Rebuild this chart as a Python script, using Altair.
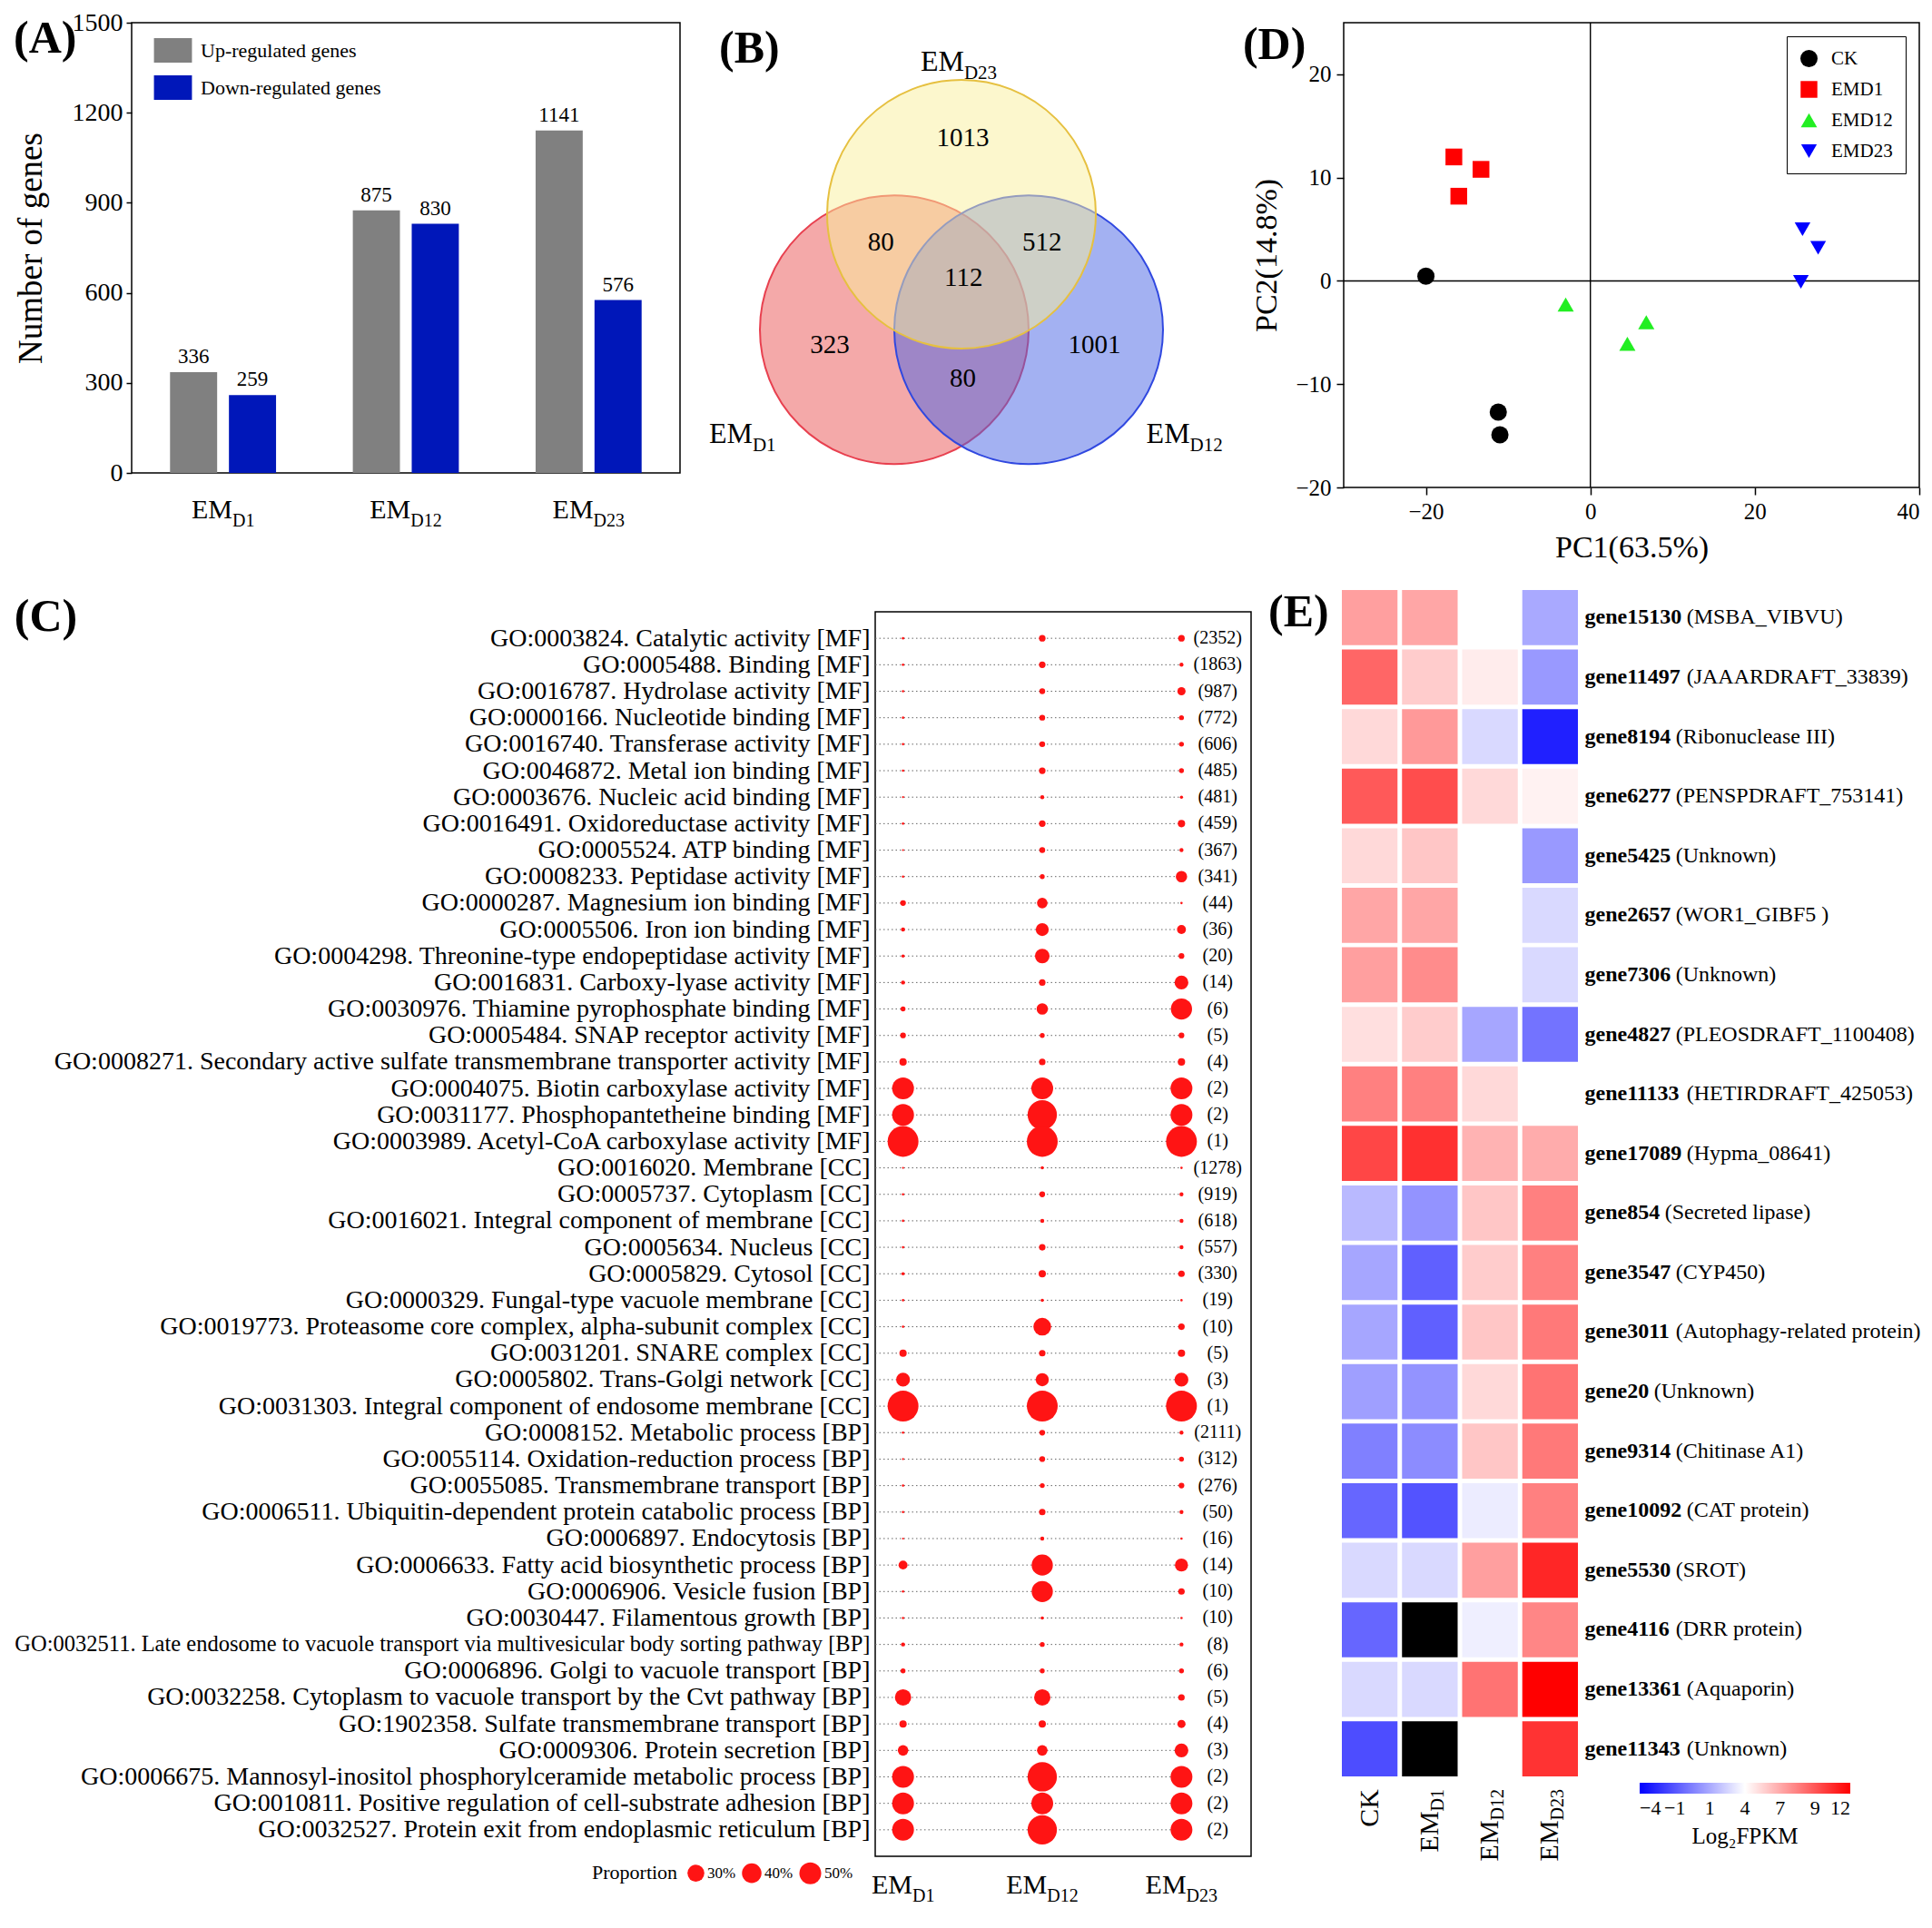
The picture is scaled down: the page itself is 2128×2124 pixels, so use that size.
import altair as alt
import pandas as pd

FONT = "Liberation Serif"

# ============================ DATA ============================
groups = ["EM_D1", "EM_D12", "EM_D23"]
group_main = ["EM", "EM", "EM"]
group_sub = ["D1", "D12", "D23"]

# (A) numbers of DEGs
reg_types = ["Up-regulated genes", "Down-regulated genes"]
up_genes = [336, 875, 1141]
down_genes = [259, 830, 576]
a_ticks = [0, 300, 600, 900, 1200, 1500]

# (B) Venn region counts: D23 only, D1&D23, D12&D23, all, D1 only, D12 only, D1&D12
venn_sets = ["EM_D1", "EM_D12", "EM_D23"]
venn_region_counts = [1013, 80, 512, 112, 323, 1001, 80]

# (D) PCA
pca_groups = ["CK", "EM_D1", "EM_D12", "EM_D23"]
pca_group = ["CK", "CK", "CK", "EM_D1", "EM_D1", "EM_D1",
             "EM_D12", "EM_D12", "EM_D12", "EM_D23", "EM_D23", "EM_D23"]
pca_pc1 = [-20.0, -11.2, -11.0, -16.6, -13.3, -16.0, -3.0, 4.5, 6.8, 25.8, 27.7, 25.6]
pca_pc2 = [0.45, -12.7, -14.9, 12.0, 10.8, 8.2, -2.3, -6.1, -4.0, 5.0, 3.2, -0.1]
pc1_ticks = [-20, 0, 20, 40]
pc2_ticks = [-20, -10, 0, 10, 20]

# (C) GO enrichment
go_terms = [
    "GO:0003824. Catalytic activity [MF]",
    "GO:0005488. Binding [MF]",
    "GO:0016787. Hydrolase activity [MF]",
    "GO:0000166. Nucleotide binding [MF]",
    "GO:0016740. Transferase activity [MF]",
    "GO:0046872. Metal ion binding [MF]",
    "GO:0003676. Nucleic acid binding [MF]",
    "GO:0016491. Oxidoreductase activity [MF]",
    "GO:0005524. ATP binding [MF]",
    "GO:0008233. Peptidase activity [MF]",
    "GO:0000287. Magnesium ion binding [MF]",
    "GO:0005506. Iron ion binding [MF]",
    "GO:0004298. Threonine-type endopeptidase activity [MF]",
    "GO:0016831. Carboxy-lyase activity [MF]",
    "GO:0030976. Thiamine pyrophosphate binding [MF]",
    "GO:0005484. SNAP receptor activity [MF]",
    "GO:0008271. Secondary active sulfate transmembrane transporter activity [MF]",
    "GO:0004075. Biotin carboxylase activity [MF]",
    "GO:0031177. Phosphopantetheine binding [MF]",
    "GO:0003989. Acetyl-CoA carboxylase activity [MF]",
    "GO:0016020. Membrane [CC]",
    "GO:0005737. Cytoplasm [CC]",
    "GO:0016021. Integral component of membrane [CC]",
    "GO:0005634. Nucleus [CC]",
    "GO:0005829. Cytosol [CC]",
    "GO:0000329. Fungal-type vacuole membrane [CC]",
    "GO:0019773. Proteasome core complex, alpha-subunit complex [CC]",
    "GO:0031201. SNARE complex [CC]",
    "GO:0005802. Trans-Golgi network [CC]",
    "GO:0031303. Integral component of endosome membrane [CC]",
    "GO:0008152. Metabolic process [BP]",
    "GO:0055114. Oxidation-reduction process [BP]",
    "GO:0055085. Transmembrane transport [BP]",
    "GO:0006511. Ubiquitin-dependent protein catabolic process [BP]",
    "GO:0006897. Endocytosis [BP]",
    "GO:0006633. Fatty acid biosynthetic process [BP]",
    "GO:0006906. Vesicle fusion [BP]",
    "GO:0030447. Filamentous growth [BP]",
    "GO:0032511. Late endosome to vacuole transport via multivesicular body sorting pathway [BP]",
    "GO:0006896. Golgi to vacuole transport [BP]",
    "GO:0032258. Cytoplasm to vacuole transport by the Cvt pathway [BP]",
    "GO:1902358. Sulfate transmembrane transport [BP]",
    "GO:0009306. Protein secretion [BP]",
    "GO:0006675. Mannosyl-inositol phosphorylceramide metabolic process [BP]",
    "GO:0010811. Positive regulation of cell-substrate adhesion [BP]",
    "GO:0032527. Protein exit from endoplasmic reticulum [BP]",
]
go_counts = [2352, 1863, 987, 772, 606, 485, 481, 459, 367, 341, 44, 36, 20, 14, 6, 5, 4, 2, 2, 1,
             1278, 919, 618, 557, 330, 19, 10, 5, 3, 1,
             2111, 312, 276, 50, 16, 14, 10, 10, 8, 6, 5, 4, 3, 2, 2, 2]
prop_d1 = [.006, .006, .006, .006, .006, .006, .004, .006, .004, .006, .034, .017, .011, .017, .025, .034, .056, .5, .5, 1.0,
           .004, .006, .006, .006, .011, .006, .006, .056, .2, 1.0,
           .006, .004, .006, .006, .004, .084, .006, .006, .017, .025, .28, .056, .117, .5, .5, .5]
prop_d12 = [.045, .045, .035, .035, .035, .045, .017, .045, .035, .025, .117, .177, .224, .044, .136, .025, .044, .5, .9, 1.0,
            .011, .034, .017, .044, .056, .011, .33, .044, .18, 1.0,
            .034, .034, .025, .044, .017, .47, .47, .011, .025, .025, .28, .056, .117, .9, .5, .9]
prop_d23 = [.045, .017, .07, .025, .025, .025, .011, .056, .017, .136, .006, .084, .034, .2, .47, .034, .056, .5, .5, 1.0,
            .006, .017, .017, .017, .044, .006, .044, .056, .2, 1.0,
            .017, .025, .034, .017, .006, .18, .044, .006, .017, .025, .044, .07, .2, .5, .5, .5]
prop_legend_values = [0.3, 0.4, 0.5]

# (E) heatmap
samples = ["CK", "EM_D1", "EM_D12", "EM_D23"]
sample_main = ["CK", "EM", "EM", "EM"]
sample_sub = ["", "D1", "D12", "D23"]
genes = ["gene15130", "gene11497", "gene8194", "gene6277", "gene5425", "gene2657", "gene7306",
         "gene4827", "gene11133", "gene17089", "gene854", "gene3547", "gene3011", "gene20",
         "gene9314", "gene10092", "gene5530", "gene4116", "gene13361", "gene11343"]
gene_notes = ["(MSBA_VIBVU)", "(JAAARDRAFT_33839)", "(Ribonuclease III)", "(PENSPDRAFT_753141)",
              "(Unknown)", "(WOR1_GIBF5 )", "(Unknown)", "(PLEOSDRAFT_1100408)",
              "(HETIRDRAFT_425053)", "(Hypma_08641)", "(Secreted lipase)", "(CYP450)",
              "(Autophagy-related protein)", "(Unknown)", "(Chitinase A1)", "(CAT protein)",
              "(SROT)", "(DRR protein)", "(Aquaporin)", "(Unknown)"]
fpkm_ck = [7.0, 8.8, 5.2, 9.2, 5.2, 6.8, 7.0, 5.0, 8.0, 9.8, 1.8, 1.2, 1.2, 1.0, 0.0, -0.8, 2.8, -0.8, 2.8, -1.6]
fpkm_d1 = [6.8, 5.6, 7.2, 9.6, 5.8, 6.8, 7.6, 5.6, 8.0, 10.5, 0.6, -1.0, -1.0, 0.6, 0.4, -1.4, 2.8, None, 2.8, None]
fpkm_d12 = [4.0, 4.6, 2.8, 5.2, 4.0, 4.0, 4.0, 1.2, 5.2, 6.4, 5.8, 5.6, 5.8, 5.2, 5.8, 3.4, 7.0, 3.5, 8.4, 4.0]
fpkm_d23 = [1.3, 0.8, -3.0, 4.4, 0.8, 2.8, 2.8, -0.4, 4.0, 6.6, 8.0, 8.0, 8.2, 8.4, 8.2, 8.0, 10.8, 7.8, 12.0, 10.4]
colorbar_ticks = [-4, -1.333, 1.333, 4, 6.667, 9.333, 12]

# ====================== GEOMETRY (layout only) ======================
venn_center_x = [-0.5, 0.5, 0.0]
venn_center_y = [-0.43, -0.43, 0.43]
venn_region_x = [0.01, -0.6, 0.6, 0.015, -0.98, 0.99, 0.01]
venn_region_y = [1.0, 0.22, 0.22, -0.04, -0.54, -0.54, -0.79]
venn_label_x = [-1.63, 1.66, -0.02]
venn_label_y = [-1.27, -1.27, 1.5]

CW = {"E": 0.611, "M": 0.889, "D": 0.722, "C": 0.667, "K": 0.722}


def tw(s, fs):
    return sum(CW.get(c, 0.5) for c in s) * fs


def sub_text_layers(df, key_field, keys, mains, subs, x_enc, y_enc, fs, sfs, angle=0):
    layers = []
    for k, m, s in zip(keys, mains, subs):
        base = alt.Chart(df).transform_filter(alt.datum[key_field] == k)
        wm, ws = tw(m, fs), tw(s, sfs)
        if angle == 0:
            off = (wm - ws) / 2
            layers.append(base.mark_text(text=m, align="right", baseline="alphabetic", dx=off,
                                         font=FONT, fontSize=fs, color="black").encode(x=x_enc, y=y_enc))
            if s:
                layers.append(base.mark_text(text=s, align="left", baseline="alphabetic", dx=off,
                                             dy=0.3 * fs, font=FONT, fontSize=sfs,
                                             color="black").encode(x=x_enc, y=y_enc))
        else:
            layers.append(base.mark_text(text=m, align="right", baseline="middle", angle=angle,
                                         dx=-ws, font=FONT, fontSize=fs,
                                         color="black").encode(x=x_enc, y=y_enc))
            if s:
                layers.append(base.mark_text(text=s, align="right", baseline="middle", angle=angle,
                                             dy=0.3 * fs, font=FONT, fontSize=sfs,
                                             color="black").encode(x=x_enc, y=y_enc))
    return layers


def ptitle(t, dx, dy):
    return alt.TitleParams(t, anchor="start", frame="bounds", offset=0, dx=dx, dy=dy,
                           font=FONT, fontSize=50, fontWeight="bold", color="black")


BOX = alt.ViewBackground(stroke="black", strokeWidth=1.5)
ind = dict(color="independent", shape="independent", size="independent",
           fill="independent", stroke="independent")

# ============================ (A) ============================
WA, HA = 604, 496
dfA = pd.DataFrame({
    "group": [g for g in groups for _ in reg_types],
    "type": reg_types * len(groups),
    "n": [v for pair in zip(up_genes, down_genes) for v in pair],
})
scA = alt.Scale(domain=groups, paddingInner=0.42, paddingOuter=0.21)
xA = alt.X("group:N", scale=scA, axis=None)
yA = alt.Y("n:Q", scale=alt.Scale(domain=[0, 1500], nice=False),
           axis=alt.Axis(values=a_ticks, format="d", title="Number of genes", grid=False, domain=False,
                         labelFont=FONT, labelFontSize=28, labelColor="black", labelPadding=4,
                         tickColor="black", tickSize=6, tickWidth=1.5,
                         titleFont=FONT, titleFontSize=37, titleFontWeight="normal",
                         titleColor="black", titlePadding=26))
xoA = alt.XOffset("type:N", scale=alt.Scale(domain=reg_types, paddingInner=0.2))
colA = alt.Color("type:N", scale=alt.Scale(domain=reg_types, range=["#808080", "#0017b9"]),
                 legend=alt.Legend(title=None, orient="none", legendX=32, legendY=17, padding=0,
                                   symbolType="M-1.55,-1H1.55V1H-1.55Z", symbolSize=729,
                                   symbolStrokeWidth=0, symbolOpacity=1, labelLimit=500,
                                   labelFont=FONT, labelFontSize=22, labelColor="black",
                                   labelOffset=17, rowPadding=14))
barsA = alt.Chart(dfA).mark_bar().encode(x=xA, xOffset=xoA, y=yA, color=colA)
valsA = alt.Chart(dfA).mark_text(baseline="bottom", dy=-5, font=FONT, fontSize=23,
                                 color="black").encode(x=xA, xOffset=xoA, y=yA, text="n:Q")
dfG = pd.DataFrame({"group": groups})
labA = sub_text_layers(dfG, "group", groups, group_main, group_sub, xA, alt.value(HA + 50), 30, 20)
chartA = alt.layer(barsA, valsA, *labA).properties(width=WA, height=HA, title=ptitle("(A)", 0, 57),
                                                    view=BOX)

# ============================ (B) ============================
WB, HB = 580, 520
PPU = 148.0
b_top = venn_center_y[2] + 211 / PPU
scBx = alt.Scale(domain=[-WB / 2 / PPU, WB / 2 / PPU], nice=False, zero=False)
scBy = alt.Scale(domain=[b_top - HB / PPU, b_top], nice=False, zero=False)
dfBc = pd.DataFrame({"set": venn_sets, "x": venn_center_x, "y": venn_center_y})
circ = alt.Chart(dfBc).mark_circle(opacity=1, fillOpacity=0.5, strokeWidth=2, strokeOpacity=1).encode(
    x=alt.X("x:Q", scale=scBx, axis=None),
    y=alt.Y("y:Q", scale=scBy, axis=None),
    fill=alt.Fill("set:N", scale=alt.Scale(domain=venn_sets, range=["#e95353", "#4763e5", "#f9ef9b"]),
                  legend=None),
    stroke=alt.Stroke("set:N", scale=alt.Scale(domain=venn_sets, range=["#e8404f", "#3048e0", "#e6c040"]),
                      legend=None),
    size=alt.value((2 * PPU) ** 2),
)
dfBr = pd.DataFrame({"n": venn_region_counts, "x": venn_region_x, "y": venn_region_y})
numsB = alt.Chart(dfBr).mark_text(font=FONT, fontSize=29, color="black", baseline="middle").encode(
    x=alt.X("x:Q", scale=scBx, axis=None), y=alt.Y("y:Q", scale=scBy, axis=None), text="n:Q")
dfBl = pd.DataFrame({"set": venn_sets, "x": venn_label_x, "y": venn_label_y})
labB = sub_text_layers(dfBl, "set", venn_sets, group_main, group_sub,
                       alt.X("x:Q", scale=scBx, axis=None), alt.Y("y:Q", scale=scBy, axis=None), 32, 21)
chartB = alt.layer(circ, numsB, *labB).properties(width=WB, height=HB, title=ptitle("(B)", 23, 54))

# ============================ (D) ============================
WD, HD = 634, 512
dfD = pd.DataFrame({"group": pca_group, "pc1": pca_pc1, "pc2": pca_pc2})
axD = dict(grid=False, domain=False, labelFont=FONT, labelFontSize=25, labelColor="black",
           tickColor="black", tickSize=8, tickWidth=1.5, labelPadding=6,
           titleFont=FONT, titleFontSize=34, titleFontWeight="normal", titleColor="black")
xD = alt.X("pc1:Q", scale=alt.Scale(domain=[-30, 40], nice=False, zero=False),
           axis=alt.Axis(values=pc1_ticks, title="PC1(63.5%)", titlePadding=10, **axD))
yD = alt.Y("pc2:Q", scale=alt.Scale(domain=[-20, 25], nice=False, zero=False),
           axis=alt.Axis(values=pc2_ticks, title="PC2(14.8%)", titlePadding=14, **axD))
legD = alt.Legend(title=None, orient="top-right", offset=15, padding=14, strokeColor="black",
                  fillColor="white", symbolSize=560, symbolStrokeWidth=0, symbolOpacity=1,
                  labelFont=FONT, labelFontSize=21, labelColor="black", rowPadding=12,
                  labelOffset=14, labelExpr="replace(datum.label, '_', '')")
zeroD = pd.DataFrame({"pc1": [0], "pc2": [0]})
vrule = alt.Chart(zeroD).mark_rule(color="black", strokeWidth=1.4).encode(x=xD)
hrule = alt.Chart(zeroD).mark_rule(color="black", strokeWidth=1.4).encode(y=yD)
ptsD = alt.Chart(dfD).mark_point(filled=True, opacity=1).encode(
    x=xD, y=yD,
    color=alt.Color("group:N", scale=alt.Scale(domain=pca_groups,
                                               range=["#000000", "#ff0000", "#22ee22", "#0000ff"]),
                    legend=legD),
    shape=alt.Shape("group:N", scale=alt.Scale(domain=pca_groups,
                                               range=["circle", "square", "triangle-up", "triangle-down"]),
                    legend=legD),
    size=alt.Size("group:N", scale=alt.Scale(domain=pca_groups, range=[361, 300, 560, 560]), legend=None),
)
chartD = alt.layer(vrule, hrule, ptsD).properties(width=WD, height=HD, title=ptitle("(D)", -10, 51),
                                                  view=BOX)

# ============================ (C) ============================
WL, WC, HC = 807, 414, 1371
cdom = [0.8, 3.5]
scCx = alt.Scale(domain=cdom, nice=False, zero=False)
scCy = alt.Scale(type="point", domain=go_terms, padding=1.1)
scSize = alt.Scale(domain=[0, 1], range=[0, 1156])
rowsC = []
for i, term in enumerate(go_terms):
    for j, arr in enumerate([prop_d1, prop_d12, prop_d23]):
        rowsC.append({"term": term, "col": groups[j], "xi": j + 1, "prop": arr[i]})
dfC = pd.DataFrame(rowsC)
dfT = pd.DataFrame({"term": go_terms, "count": [f"({c})" for c in go_counts]})
longest = max(go_terms, key=len)
yCl = alt.Y("term:N", sort=go_terms, scale=scCy,
            axis=alt.Axis(orient="right", labelAlign="right", title=None, ticks=False, domain=False,
                          grid=False, labelFont=FONT, labelColor="black", labelPadding=6,
                          labelLimit=3000,
                          labelFontSize={"condition": {"test": f"datum.value === '{longest}'",
                                                       "value": 24.5},
                                         "value": 28}))
legC = alt.Legend(title="Proportion", values=prop_legend_values, format=".0%", orient="none",
                  legendX=WL - 300, legendY=HC + 6, direction="horizontal", titleOrient="left",
                  titleFont=FONT, titleFontSize=22, titleFontWeight="normal", titleColor="black",
                  titlePadding=10, labelFont=FONT, labelFontSize=17, labelColor="black",
                  symbolStrokeWidth=0, symbolFillColor="#ff1414", symbolOpacity=1,
                  labelOffset=3, columnPadding=6)
labelsC = alt.Chart(dfC).mark_circle(opacity=0, color="#ff1414").encode(
    y=yCl, size=alt.Size("prop:Q", scale=scSize, legend=legC)).properties(
    width=WL, height=HC, title=ptitle("(C)", 0, 31))

yC = alt.Y("term:N", sort=go_terms, scale=scCy, axis=None)
rulesC = alt.Chart(dfT).mark_rule(color="#666666", strokeWidth=1, strokeDash=[1.5, 3]).encode(
    x=alt.XDatum(cdom[0], type="quantitative", scale=scCx, axis=None),
    x2=alt.X2Datum(3.0), y=yC)
dotsC = alt.Chart(dfC).mark_circle(color="#ff1414", opacity=1).encode(
    x=alt.X("xi:Q", scale=scCx, axis=None), y=yC,
    size=alt.Size("prop:Q", scale=scSize, legend=None))
countsC = alt.Chart(dfT).mark_text(font=FONT, fontSize=20, color="black", baseline="middle").encode(
    x=alt.XDatum(3.26, type="quantitative", scale=scCx, axis=None), y=yC, text="count:N")
dfCol = pd.DataFrame({"group": groups, "xi": [1, 2, 3]})
labC = sub_text_layers(dfCol, "group", groups, group_main, group_sub,
                       alt.X("xi:Q", scale=scCx, axis=None), alt.value(HC + 41), 30, 20)
plotC = alt.layer(rulesC, dotsC, countsC, *labC).properties(width=WC, height=HC, view=BOX)
chartC = alt.hconcat(labelsC, plotC, spacing=0).resolve_scale(**ind)

# ============================ (E) ============================
E_SHIFT = 24
WE, HE = 260, 1307
rowsE = []
for i, g in enumerate(genes):
    for s, arr in zip(samples, [fpkm_ck, fpkm_d1, fpkm_d12, fpkm_d23]):
        rowsE.append({"gene": g, "sample": s, "v": arr[i]})
dfE = pd.DataFrame(rowsE)
dfN = pd.DataFrame({"gene": genes, "note": gene_notes, "nd": [len(g) - 4 for g in genes]})
HEv = HE - E_SHIFT
scEx = alt.Scale(domain=samples, paddingInner=0.075, paddingOuter=0)
scEy = alt.Scale(domain=genes, paddingInner=0.075, paddingOuter=0, range=[-E_SHIFT, HEv])
xE = alt.X("sample:N", scale=scEx, axis=None)
yE = alt.Y("gene:N", scale=scEy,
           axis=alt.Axis(orient="right", title=None, ticks=False, domain=False, grid=False,
                         labelFont=FONT, labelFontSize=24, labelFontWeight="bold",
                         labelColor="black", labelPadding=7, labelLimit=400))
legE = alt.Legend(title="Log₂FPKM", orient="none", legendX=328, legendY=HEv + 7, direction="horizontal",
                  gradientLength=232, gradientThickness=12, gradientStrokeWidth=0,
                  values=colorbar_ticks, format=".0f", labelOverlap=False,
                  labelFont=FONT, labelFontSize=22, labelColor="black", labelOffset=6,
                  titleOrient="bottom", titleAnchor="middle", titleFont=FONT, titleFontSize=25,
                  titleFontWeight="normal", titleColor="black", titlePadding=8)
cellsE = alt.Chart(dfE).transform_filter("isValid(datum.v)").mark_rect().encode(
    x=xE, y=yE,
    color=alt.Color("v:Q", scale=alt.Scale(domain=[-4, 4, 12], range=["#0000ff", "#ffffff", "#ff0000"],
                                           interpolate="rgb"), legend=legE))
missE = alt.Chart(dfE).transform_filter("!isValid(datum.v)").mark_rect(color="black").encode(x=xE, y=yE)
notesE = []
for nd in sorted(set(len(g) - 4 for g in genes)):
    off = 7 + (1.944 + 0.5 * nd) * 24 + 0.25 * 24
    notesE.append(alt.Chart(dfN).transform_filter(alt.datum.nd == nd).mark_text(
        align="left", baseline="middle", dx=off, font=FONT, fontSize=24, color="black").encode(
        x=alt.value(WE), y=yE, text="note:N"))
dfS = pd.DataFrame({"sample": samples})
labE = sub_text_layers(dfS, "sample", samples, sample_main, sample_sub, xE, alt.value(HEv + 14), 30, 20,
                       angle=270)
chartE = alt.layer(cellsE, missE, *notesE, *labE).properties(width=WE, height=HEv,
                                                              title=ptitle("(E)", -81, 50))

# ============================ LAYOUT ============================
row1 = alt.hconcat(chartA, chartB, chartD, spacing=18).resolve_scale(**ind)
row2 = alt.hconcat(chartC, chartE, spacing=17).resolve_scale(**ind)
chart = (alt.vconcat(row1, row2, spacing=28).resolve_scale(**ind)
         .properties(padding={"left": 6, "top": 2, "right": 0, "bottom": 0})
         .configure_view(stroke="transparent")
         .configure_text(font=FONT)
         .configure_title(font=FONT)
         .configure_axis(labelFont=FONT, titleFont=FONT)
         .configure_legend(labelFont=FONT, titleFont=FONT))

chart.save("out.html", embed_options={"renderer": "svg", "actions": False})
